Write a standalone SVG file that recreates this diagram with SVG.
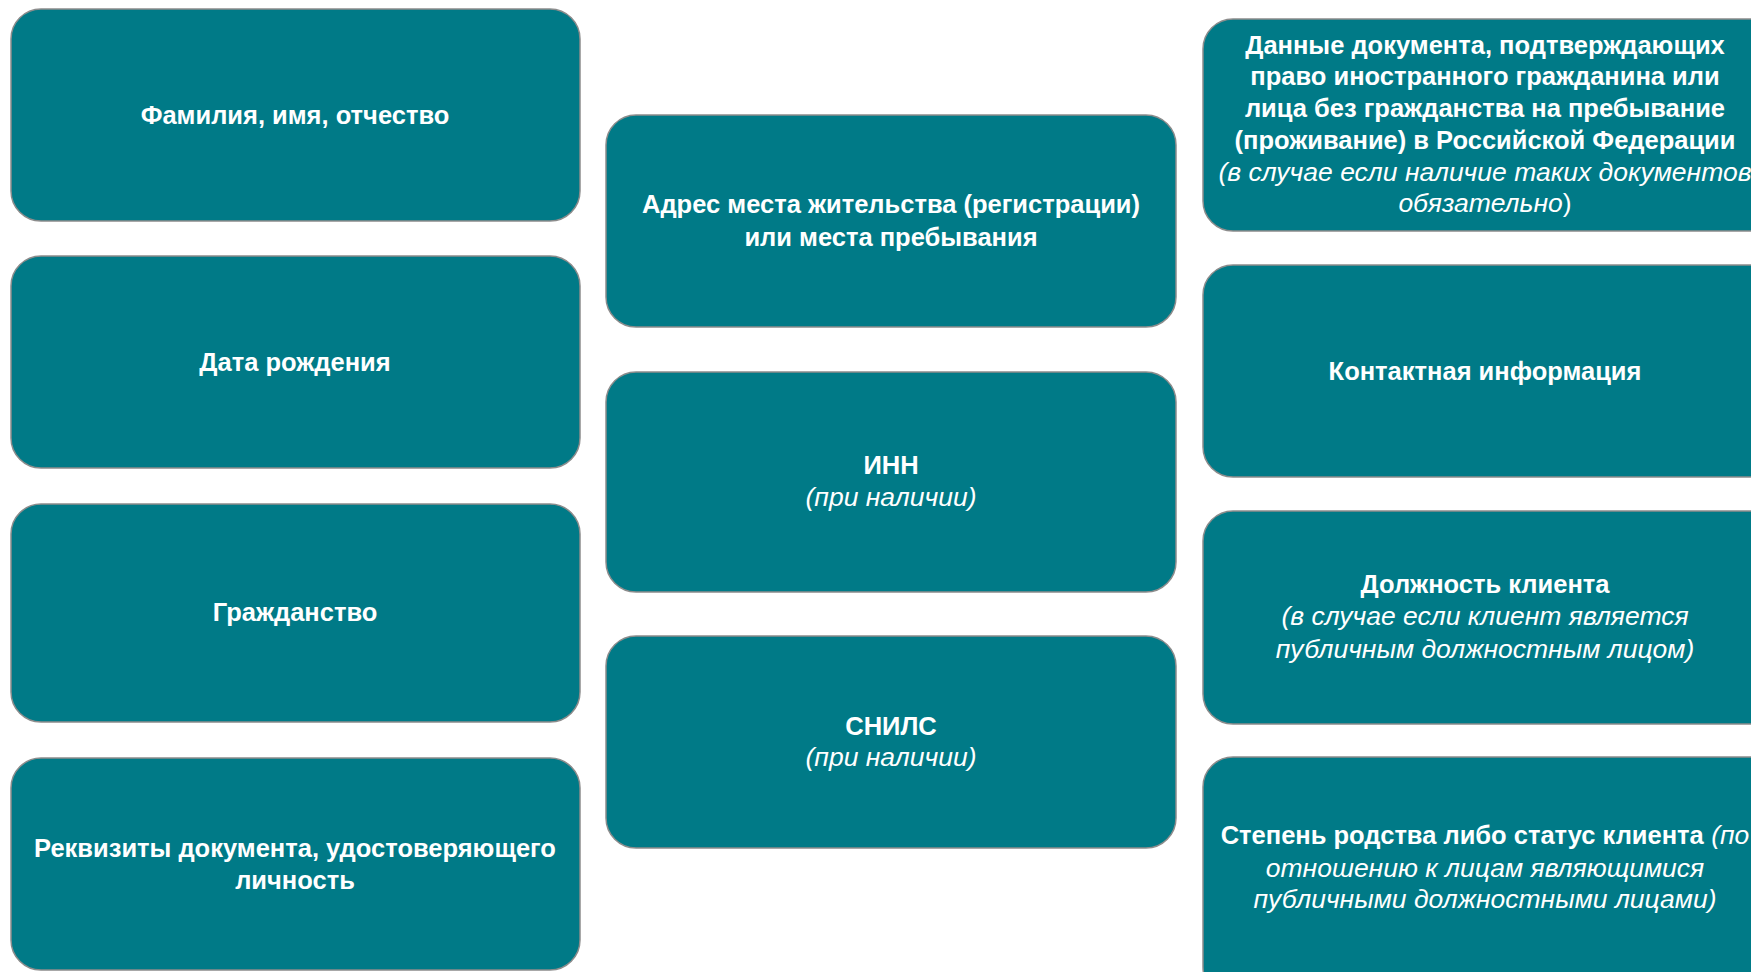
<svg xmlns="http://www.w3.org/2000/svg" width="1751" height="972" viewBox="0 0 1751 972">
<style>
.box{fill:#007A87;stroke:#8C8C8C;stroke-width:1.5}
text{font-family:"Liberation Sans",Arial,sans-serif;font-size:25.5px;fill:#FFFFFF;text-anchor:middle}
.b{font-weight:bold}
.i{font-style:italic;font-weight:normal;font-size:26.5px}
.u{font-style:normal}
</style>
<rect width="1751" height="972" fill="#FFFFFF"/>
<g id="connectors"/>
<g id="n-fio"><rect class="box" x="11" y="9" width="569" height="212" rx="30"/><text class="b" x="295" y="124">Фамилия, имя, отчество</text></g>
<g id="n-birth"><rect class="box" x="11" y="256" width="569" height="212" rx="30"/><text class="b" x="295" y="371">Дата рождения</text></g>
<g id="n-citizen"><rect class="box" x="11" y="504" width="569" height="218" rx="30"/><text class="b" x="295" y="621">Гражданство</text></g>
<g id="n-doc"><rect class="box" x="11" y="758" width="569" height="212" rx="30"/><text class="b" x="295" y="857">Реквизиты документа, удостоверяющего</text><text class="b" x="295" y="889">личность</text></g>
<g id="n-addr"><rect class="box" x="606" y="115" width="570" height="212" rx="30"/><text class="b" x="891" y="213">Адрес места жительства (регистрации)</text><text class="b" x="891" y="246">или места пребывания</text></g>
<g id="n-inn"><rect class="box" x="606" y="372" width="570" height="220" rx="30"/><text class="b" x="891" y="474">ИНН</text><text class="i" x="891" y="506">(при наличии)</text></g>
<g id="n-snils"><rect class="box" x="606" y="636" width="570" height="212" rx="30"/><text class="b" x="891" y="735">СНИЛС</text><text class="i" x="891" y="766">(при наличии)</text></g>
<g id="n-foreign"><rect class="box" x="1203" y="19" width="580" height="212" rx="30"/>
<text class="b" x="1485" y="54">Данные документа, подтверждающих</text>
<text class="b" x="1485" y="85">право иностранного гражданина или</text>
<text class="b" x="1485" y="117">лица без гражданства на пребывание</text>
<text class="b" x="1485" y="149">(проживание) в Российской Федерации</text>
<text class="i" x="1485" y="181">(в случае если наличие таких документов</text>
<text class="i" x="1485" y="212">обязательно<tspan class="u">)</tspan></text></g>
<g id="n-contact"><rect class="box" x="1203" y="265" width="580" height="212" rx="30"/><text class="b" x="1485" y="380">Контактная информация</text></g>
<g id="n-position"><rect class="box" x="1203" y="511" width="580" height="213" rx="30"/>
<text class="b" x="1485" y="593">Должность клиента</text>
<text class="i" x="1485" y="625">(в случае если клиент является</text>
<text class="i" x="1485" y="658">публичным должностным лицом)</text></g>
<g id="n-kin"><rect class="box" x="1203" y="757" width="580" height="240" rx="30"/>
<text x="1485" y="844"><tspan class="b">Степень родства либо статус клиента</tspan><tspan class="i"> (по</tspan></text>
<text class="i" x="1485" y="877">отношению к лицам являющимися</text>
<text class="i" x="1485" y="908">публичными должностными лицами)</text></g>
</svg>
